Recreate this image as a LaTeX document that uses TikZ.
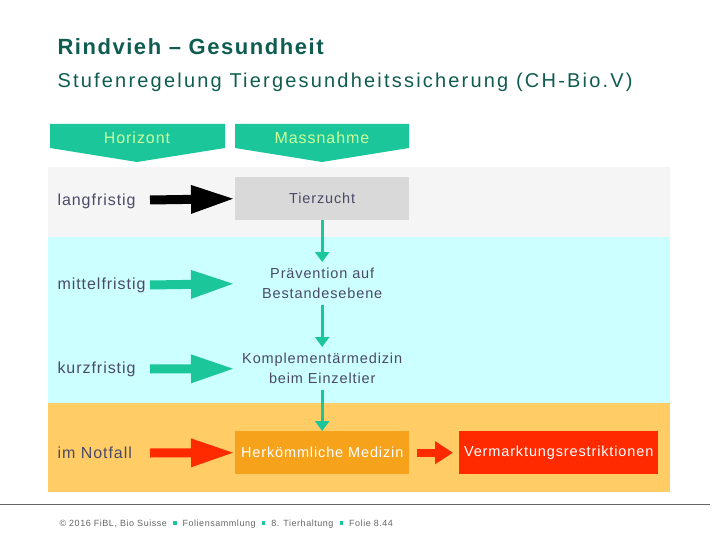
\documentclass[tikz,border=0pt]{standalone}
\usepackage{fontspec}
\setmainfont{Liberation Sans}
\newfontfamily\spf[LetterSpace=6]{Liberation Sans}
\newfontfamily\spt[LetterSpace=7]{Liberation Sans}
\newfontfamily\sps[LetterSpace=11]{Liberation Sans}
\usetikzlibrary{arrows.meta}
\definecolor{teal}{HTML}{1BC79A}
\definecolor{lgreen}{HTML}{CCFF99}
\definecolor{txt}{HTML}{4A4A68}
\definecolor{bgrey}{HTML}{F5F5F5}
\definecolor{bcyan}{HTML}{CCFFFF}
\definecolor{borange}{HTML}{FFCC66}
\definecolor{boxorange}{HTML}{F7A21B}
\definecolor{boxred}{HTML}{FF2A00}
\definecolor{titlec}{HTML}{0F5C50}
\begin{document}
\begin{tikzpicture}[x=1pt,y=-1pt,
  lbl/.style={anchor=west,text=txt,font=\spf\fontsize{16}{18}\selectfont},
  mbox/.style={minimum width=174pt,minimum height=43pt,anchor=north west,inner sep=0pt,align=center,font=\spf\fontsize{14.5}{20}\selectfont,text=txt},
  bigarrow/.style={line width=9pt,-{Triangle[length=44pt,width=26pt]}},
  vconn/.style={teal,line width=3pt,-{Triangle[length=10pt,width=14pt]}}]
\useasboundingbox (0,0) rectangle (720,540);
\fill[white] (0,0) rectangle (720,540);
\node[anchor=west,text=titlec,font=\spt\bfseries\fontsize{22}{24}\selectfont] (t1) at (54,47) {Rindvieh – Gesundheit};
\node[anchor=west,text=titlec,font=\sps\fontsize{20}{22}\selectfont] (t2) at (54,82) {Stufenregelung Tiergesundheitssicherung (CH-Bio.V)};
% bands
\fill[bgrey] (48,167) rectangle (670,237);
\fill[bcyan] (48,237) rectangle (670,403);
\fill[borange] (48,403) rectangle (670,492);
% header pentagons
\fill[teal] (50,124) -- (225,124) -- (225,148) -- (137,162) -- (50,148) -- cycle;
\fill[teal] (235,124) -- (409,124) -- (409,148) -- (322,162) -- (235,148) -- cycle;
\node[text=lgreen,font=\spf\fontsize{16}{18}\selectfont] (h1) at (137,138) {Horizont};
\node[text=lgreen,font=\spf\fontsize{16}{18}\selectfont] (h2) at (322,138) {Massnahme};
% labels
\node[lbl] (l1) at (54,201) {langfristig};
\node[lbl] (l2) at (54,285) {mittelfristig};
\node[lbl] (l3) at (54,369) {kurzfristig};
\node[lbl] (l4) at (54,453) {im Notfall};
% boxes
\node[mbox,fill=black!15] (b1) at (235,177) {Tierzucht};
\node[mbox,fill=bcyan] (b2) at (235,262) {Prävention auf\\Bestandesebene};
\node[mbox,fill=bcyan] (b3) at (235,347) {Komplementärmedizin\\beim Einzeltier};
\node[mbox,fill=boxorange,text=white] (b4) at (235,431) {Herkömmliche Medizin};
\node[mbox,minimum width=199pt,fill=boxred,text=white] (b5) at (459,431) {Vermarktungsrestriktionen};
% left arrows
\coordinate (a1) at (150,200); \coordinate (a2) at (150,285);
\coordinate (a3) at (150,369); \coordinate (a4) at (150,453);
\draw[bigarrow,black] (a1) -- (b1.west);
\draw[bigarrow,teal] (a2) -- (b2.west);
\draw[bigarrow,teal] (a3) -- (b3.west);
\draw[bigarrow,boxred] (a4) -- (b4.west);
\draw[line width=8pt,boxred,-{Triangle[length=18pt,width=22pt]}] ([xshift=8pt]b4.east) -- ([xshift=-6pt]b5.west);
% vertical connectors
\draw[vconn] (b1.south) -- (b2.north);
\draw[vconn] (b2.south) -- (b3.north);
\draw[vconn] (b3.south) -- (b4.north);
% footer
\draw[black!60,line width=0.8pt] (0,504) -- (710,504);
\node[anchor=west,text=black!60,font=\spf\fontsize{9}{10}\selectfont] (f) at (56,524) {© 2016 FiBL, Bio Suisse \ \textcolor{teal}{\raisebox{1.5pt}{\rule{3.5pt}{3.5pt}}}\ \ Foliensammlung \ \textcolor{teal}{\raisebox{1.5pt}{\rule{3.5pt}{3.5pt}}}\ \ 8. Tierhaltung \ \textcolor{teal}{\raisebox{1.5pt}{\rule{3.5pt}{3.5pt}}}\ \ Folie 8.44};
\end{tikzpicture}
\end{document}
